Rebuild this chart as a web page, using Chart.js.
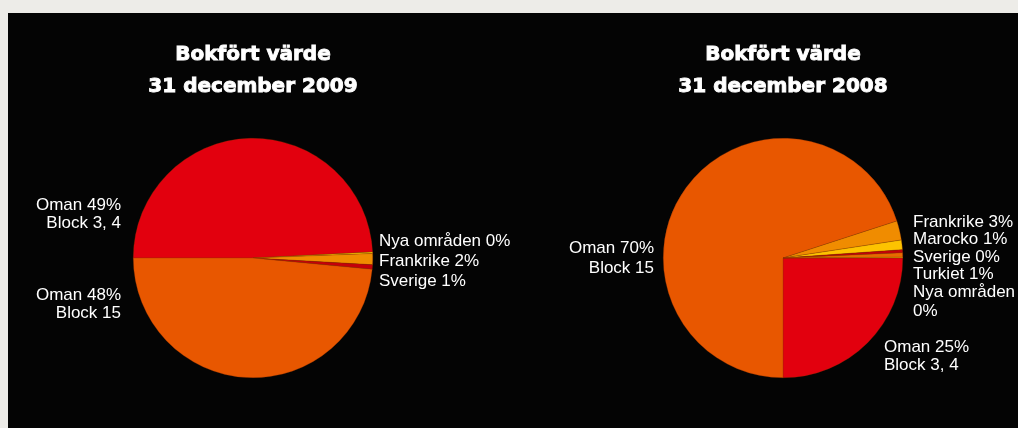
<!DOCTYPE html>
<html>
<head>
<meta charset="utf-8">
<script src="https://cdn.jsdelivr.net/npm/chart.js@4"></script>
<style>
  body { margin: 0; background: #edece8; }
  #panel { position: absolute; left: 8px; top: 13px; width: 1010px; height: 415px; background: #040404; }
  canvas { position: absolute; top: 0; }
</style>
</head>
<body>
<div id="panel"></div>
<canvas id="pie2009" width="518" height="428" style="left:0"></canvas>
<canvas id="pie2008" width="500" height="428" style="left:518px"></canvas>
<script>
// 31 december 2009
const categories2009 = ['Oman', 'Nya områden', 'Frankrike', 'Sverige', 'Oman'];
const blocks2009 = ['Block 3, 4', '', '', '', 'Block 15'];
const values2009 = [49.2, 0.2, 1.5, 0.6, 48.5];
const shownPct2009 = [49, 0, 2, 1, 48];
const colors2009 = ['#e2000e', '#ffd500', '#f08c00', '#c4000b', '#e85700'];

// 31 december 2008
const categories2008 = ['Oman', 'Oman', 'Frankrike', 'Marocko', 'Sverige', 'Turkiet', 'Nya områden'];
const blocks2008 = ['Block 3, 4', 'Block 15', '', '', '', '', ''];
const values2008 = [25, 70, 2.6, 1.3, 0.4, 0.6, 0.1];
const shownPct2008 = [25, 70, 3, 1, 0, 1, 0];
const colors2008 = ['#e2000e', '#e85700', '#f08c00', '#fdc300', '#c4000b', '#e86a00', '#ffd500'];

// where each label sits, relative to the pie centre (dx, dy of first line)
const labelPos2009 = [
  { dx: -132, dy: -53, align: 'right' },
  { dx: 126, dy: -17, align: 'left' },
  { dx: 126, dy: 3, align: 'left' },
  { dx: 126, dy: 23, align: 'left' },
  { dx: -132, dy: 37, align: 'right' }
];
const labelPos2008 = [
  { dx: 101, dy: 89, align: 'left', lh: 18 },
  { dx: -129, dy: -10, align: 'right', lh: 20 },
  { dx: 130, dy: -36, align: 'left' },
  { dx: 130, dy: -18.5, align: 'left' },
  { dx: 130, dy: -1, align: 'left' },
  { dx: 130, dy: 16.5, align: 'left' },
  { dx: 130, dy: 34.5, align: 'left', wrap: true, lh: 18.5 }
];

const labelFont = '17px "Liberation Sans", Arial, sans-serif';
const titleFont = 'bold 20px "DejaVu Sans", sans-serif';

// draws the titles and the slice labels next to the pie
const pieLabels = {
  id: 'pieLabels',
  afterDraw(chart, args, opts) {
    const ctx = chart.ctx;
    const arc = chart.getDatasetMeta(0).data[0];
    const cx = arc.x, cy = arc.y;
    ctx.save();
    ctx.fillStyle = '#ffffff';
    ctx.strokeStyle = '#ffffff';
    ctx.lineWidth = 0.9;
    ctx.textBaseline = 'middle';
    ctx.textAlign = 'center';
    ctx.font = titleFont;
    opts.title.forEach((t, k) => {
      ctx.fillText(t, cx, 55 + k * 32);
      ctx.strokeText(t, cx, 55 + k * 32);
    });
    ctx.font = labelFont;
    opts.names.forEach((name, i) => {
      const p = opts.pos[i];
      const lh = p.lh || 18;
      let lines = [name + ' ' + opts.pct[i] + '%'];
      if (p.wrap) lines = [name, opts.pct[i] + '%'];
      if (opts.blocks[i]) lines.push(opts.blocks[i]);
      ctx.textAlign = p.align;
      lines.forEach((t, k) => ctx.fillText(t, cx + p.dx, cy + p.dy + k * lh));
    });
    ctx.restore();
  }
};

function makePie(id, names, values, colors, blocks, pct, pos, title, rotation, pad) {
  new Chart(document.getElementById(id), {
    type: 'pie',
    data: {
      labels: names,
      datasets: [{
        data: values,
        backgroundColor: colors,
        borderColor: 'rgba(140, 50, 0, 0.6)',
        borderWidth: 0.5
      }]
    },
    options: {
      responsive: false,
      animation: false,
      rotation: rotation,
      layout: { padding: pad },
      plugins: {
        legend: { display: false },
        tooltip: { enabled: false },
        pieLabels: { names: names, blocks: blocks, pct: pct, pos: pos, title: title }
      }
    },
    plugins: [pieLabels]
  });
}

makePie('pie2009', categories2009, values2009, colors2009, blocks2009, shownPct2009, labelPos2009,
  ['Bokfört värde', '31 december 2009'], -90, { left: 133, right: 145, top: 138, bottom: 50 });
makePie('pie2008', categories2008, values2008, colors2008, blocks2008, shownPct2008, labelPos2008,
  ['Bokfört värde', '31 december 2008'], 90, { left: 145, right: 115, top: 138, bottom: 50 });
</script>
</body>
</html>
